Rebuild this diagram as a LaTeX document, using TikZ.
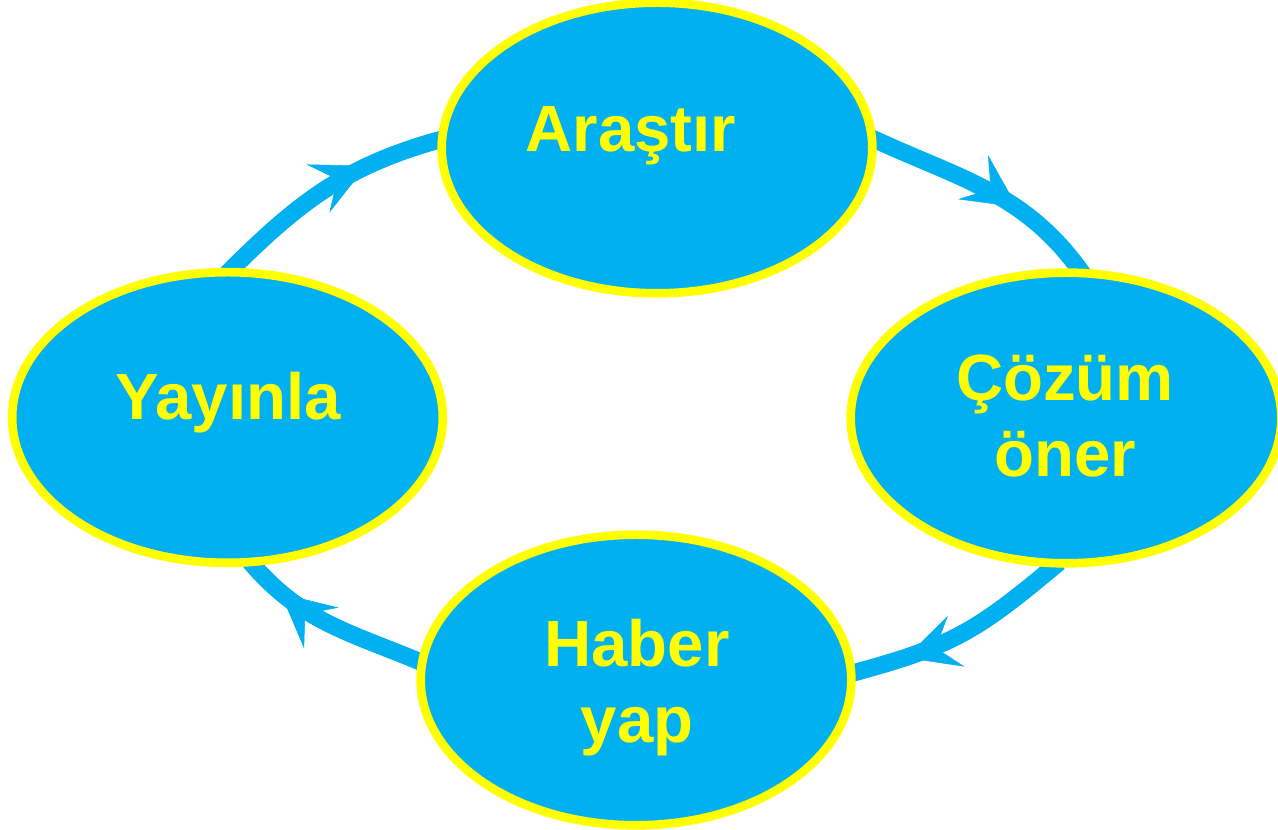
\documentclass[tikz,border=0pt]{standalone}
\usepackage{fontspec}
\setmainfont{Liberation Sans}
\usetikzlibrary{shapes.geometric,arrows.meta,decorations.markings,backgrounds}
\definecolor{skyc}{RGB}{0,176,240}
\definecolor{yel}{RGB}{255,255,0}
\begin{document}
\begin{tikzpicture}[x=0.75pt,y=0.75pt,
  bubble/.style={ellipse, draw=yel, line width=6.5pt, fill=skyc,
    minimum width=323pt, minimum height=218pt, inner sep=0pt},
  lbl/.style={text=yel, font=\fontsize{49}{57}\selectfont\bfseries, inner sep=0pt},
  cyc/.style={draw=skyc, line width=13pt, shorten <=-6pt, shorten >=-6pt,
    postaction={decorate},
    decoration={markings, mark=at position #1 with
      {\arrow[skyc]{Stealth[length=40pt,width=40pt,inset=16pt,line width=0.4pt]}}}},
  cyc/.default=0.65
]
\useasboundingbox (0,0) rectangle (1278,830);
\node[bubble] (ara) at (657,682) {};
\node[bubble] (coz) at (1066,412) {};
\node[bubble] (hab) at (636,150) {};
\node[bubble] (yay) at (227.5,412.5) {};
\node[lbl, anchor=base] (araT) at (631,678) {Araştır};
\node[lbl, anchor=base] (yayT) at (228,410) {Yayınla};
\node[lbl, align=center] (cozT) at (1065,414) {Çözüm\\öner};
\node[lbl, align=center] (habT) at (637,142) {Haber\\yap};
\begin{scope}[on background layer]
\draw[cyc=0.64] (ara.2) to[out=-25,in=125] (coz.85);
\draw[cyc=0.77] (coz.265) to[out=220,in=15,looseness=1.15] (hab.2);
\draw[cyc=0.8] (hab.175) to[out=157,in=-50] (yay.280);
\draw[cyc=0.69] (yay.88) to[out=45,in=195] (ara.178);
\end{scope}
\end{tikzpicture}
\end{document}
